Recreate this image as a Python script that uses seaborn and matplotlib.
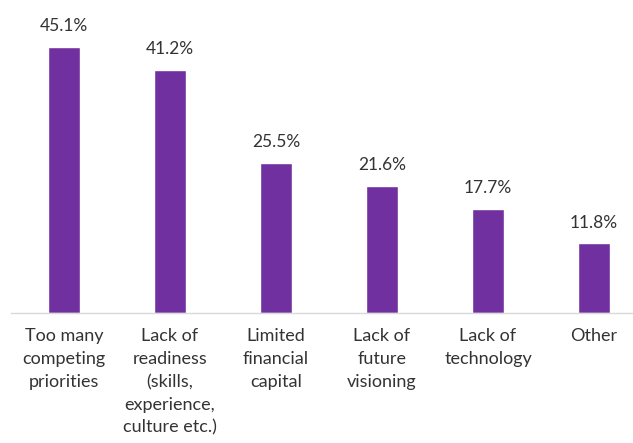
import matplotlib
matplotlib.use("Agg")
import matplotlib.pyplot as plt
import seaborn as sns
import pandas as pd

categories = [
    "Too many\ncompeting\npriorities",
    "Lack of\nreadiness\n(skills,\nexperience,\nculture etc.)",
    "Limited\nfinancial\ncapital",
    "Lack of\nfuture\nvisioning",
    "Lack of\ntechnology",
    "Other",
]
values = [45.1, 41.2, 25.5, 21.6, 17.7, 11.8]
value_labels = ["45.1%", "41.2%", "25.5%", "21.6%", "17.7%", "11.8%"]

sns.set_theme(style="white")
plt.rcParams["font.family"] = ["Lato", "DejaVu Sans"]

df = pd.DataFrame({"category": categories, "value": values})

fig = plt.figure(figsize=(6.33, 4.43), dpi=100)
# axes span slightly past the right edge so bars sit at even spacing
ax = fig.add_axes([11 / 633, 1 - 313 / 443, 636 / 633, 295 / 443])

sns.barplot(data=df, x="category", y="value", color="#7030A0",
            saturation=1, width=0.30, ax=ax)

ax.set_ylim(0, 50)
ax.set_xlim(-0.5, 5.5)
ax.set_xlabel("")
ax.set_ylabel("")
ax.set_yticks([])
for s in ["top", "right", "left"]:
    ax.spines[s].set_visible(False)
ax.spines["bottom"].set_color("#d9d9d9")
ax.spines["bottom"].set_linewidth(1.0)

ax.tick_params(axis="x", length=0, pad=11, labelsize=13, labelcolor="#333333")
for lbl in ax.get_xticklabels():
    lbl.set_linespacing(1.52)
    lbl.set_verticalalignment("top")

for i, (v, t) in enumerate(zip(values, value_labels)):
    ax.annotate(t, (i, v), xytext=(0, 9), textcoords="offset points",
                ha="center", va="bottom", fontsize=12.5, color="#333333")

fig.savefig("out.png", dpi=100)
